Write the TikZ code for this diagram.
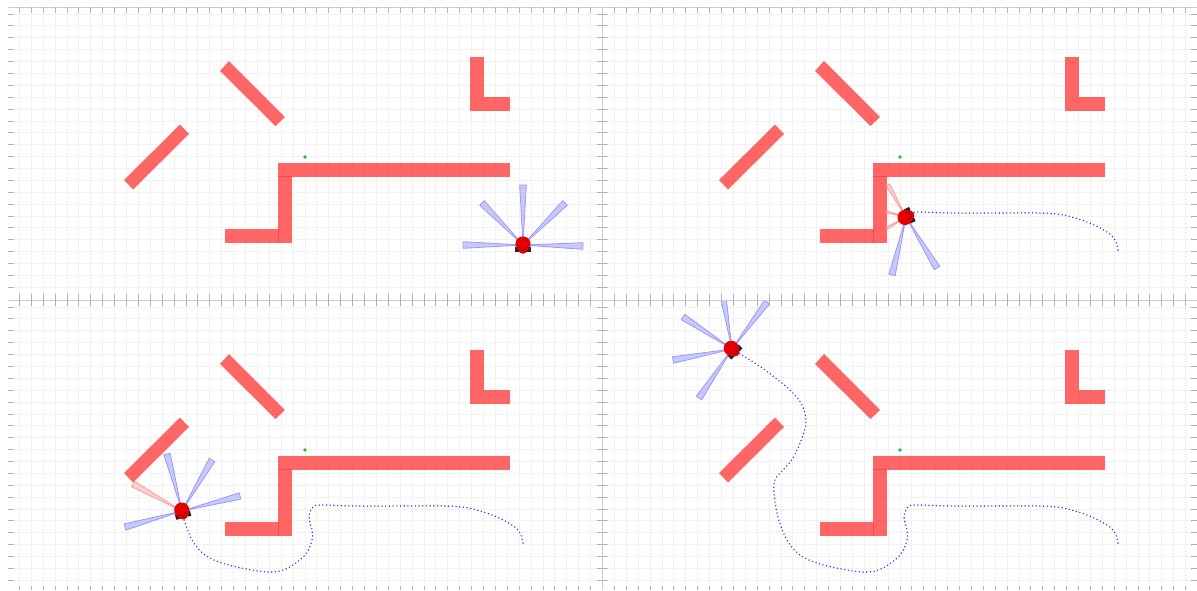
\documentclass[tikz,border=0pt]{standalone}
\usetikzlibrary{calc}
\definecolor{wallred}{RGB}{255,60,60}
\definecolor{beamblue}{RGB}{200,200,250}
\definecolor{beampink}{RGB}{255,208,208}
\tikzset{
  wall/.style={fill=wallred,fill opacity=.78,draw=none},
  bluebeam/.style={fill=beamblue,draw=blue!40!white,line width=.8pt,line join=round},
  pinkbeam/.style={fill=beampink,draw=red!40!white,line width=.8pt,line join=round},
  track/.style={draw=blue!80!white,line width=1.6pt,line cap=round,dash pattern=on 0pt off 3.7pt},
  tick/.style={draw=black!30,line width=.8pt},
  axisline/.style={draw=black!20,line width=.9pt},
  gridline/.style={draw=black!5.5,line width=.8pt},
}
\newcommand{\beam}[3][bluebeam]{\draw[#1] (#2) -- ($(#3)!.055!90:(#2)$) -- ($(#3)!.055!-90:(#2)$) -- cycle;}
\newcommand{\robot}[3]{\begin{scope}[shift={(#1,#2)},rotate=#3]
\fill[black!85] (-7.8,1.5) rectangle (-4,7);\fill[black!85] (4,1.5) rectangle (7.8,7);
\fill[red!90!black] (0,-1) circle (7.6);\fill[red!90!black] (0,4) circle (4.8);
\draw[black,line width=.4pt,dash pattern=on 1.5pt off .8pt] (-3.5,2) arc (180:0:3.5);
\end{scope}}
\newcommand{\trackA}{(523,250) (520,240) (512,232) (492,222) (468,215) (445,213) (405,213) (355,213) (322,212) (313,214)}
\newcommand{\trackB}{(309,224) (312,237) (312,247) (305,262) (288,275) (272,279) (252,277) (225,271) (205,262) (192,247) (183,224)}
\newcommand{\trackC}{(179,200) (180,187) (188,177) (198,165) (207,145) (211,129) (207,112) (195,97) (183,87) (170,77) (155,67) (137,56)}
\begin{document}
\begin{tikzpicture}[x=1pt,y=-1pt]
\useasboundingbox (0,0) rectangle (1197,590);
\fill[white] (0,0) rectangle (1197,590);
% grid
\foreach \k in {0,...,48}{\draw[gridline] ({19.3+11.9*\k},8)--({19.3+11.9*\k},590);\draw[gridline] ({614.3+11.9*\k},8)--({614.3+11.9*\k},590);}
\foreach \k in {0,...,23}{\draw[gridline] (8,{14+11.88*\k})--(1197,{14+11.88*\k});\draw[gridline] (8,{307+11.88*\k})--(1197,{307+11.88*\k});}
% walls, same in every panel
\foreach \dx/\dy in {0/0,595/0,0/293,595/293}{\begin{scope}[shift={(\dx,\dy)}]
\fill[wall] (278.3,163) rectangle (510,177);\fill[wall] (278.3,176) rectangle (291.7,242.5);\fill[wall] (225,229.3) rectangle (279,242.5);
\fill[wall] (470,57.3) rectangle (484.3,111);\fill[wall] (483.5,97.3) rectangle (510.3,111);
\fill[wall] (220,71)--(229,61)--(285,117)--(275.5,126)--cycle;
\fill[wall] (124,180)--(180,124.5)--(189,134)--(133,189.5)--cycle;
\fill[green!65!black!80] (305,157) circle (1.8);
\end{scope}}
% tracks
\draw[track,xshift=595pt,yshift=0pt] plot[smooth,tension=.6] coordinates {\trackA (311,217)};
\draw[track,yshift=-293pt] plot[smooth,tension=.6] coordinates {\trackA \trackB (182,218)};
\draw[track,xshift=595pt,yshift=-293pt] plot[smooth,tension=.6] coordinates {\trackA \trackB \trackC};
% panel one
\coordinate (rob) at (523,245);
\beam{rob}{583,246}\beam{rob}{565,203}\beam{rob}{523,185}\beam{rob}{482,203}\beam{rob}{463,245}
\robot{523}{245}{0}
% panel two
\coordinate (rob) at (906,217);
\beam[pinkbeam]{rob}{888,185}\beam[pinkbeam]{rob}{887,212}\beam[pinkbeam]{rob}{887,228}
\beam{rob}{892,275}\beam{rob}{937,268}
\robot{906}{217}{115}
% panel three
\coordinate (rob) at (182,511);
\beam[pinkbeam]{rob}{133,484}
\beam{rob}{167,454}\beam{rob}{212,460}\beam{rob}{240,496}\beam{rob}{125,527}
\robot{182}{511}{15}
% panel four
\coordinate (rob) at (732,349);
\begin{scope}
\clip (8,300.5) rectangle (1197,590);
\beam{rob}{722,290}\beam{rob}{767,302}\beam{rob}{683,317}\beam{rob}{673,360}\beam{rob}{699,398}
\end{scope}
\robot{732}{349}{45}
% axes and ticks
\draw[axisline] (8,7.5)--(1197,7.5);\draw[axisline] (8,300.3)--(1197,300.3);\draw[axisline] (602.7,8)--(602.7,590);
\foreach \k in {0,...,48}{
\draw[tick] ({19.3+11.9*\k},7)--({19.3+11.9*\k},13);\draw[tick] ({614.3+11.9*\k},7)--({614.3+11.9*\k},13);
\draw[tick] ({19.3+11.9*\k},294)--({19.3+11.9*\k},306);\draw[tick] ({614.3+11.9*\k},294)--({614.3+11.9*\k},306);
\draw[tick] ({19.3+11.9*\k},586)--({19.3+11.9*\k},590);\draw[tick] ({614.3+11.9*\k},586)--({614.3+11.9*\k},590);}
\foreach \k in {0,...,23}{
\draw[tick] (8,{14+11.88*\k})--(14,{14+11.88*\k});\draw[tick] (597,{14+11.88*\k})--(608,{14+11.88*\k});\draw[tick] (1191,{14+11.88*\k})--(1197,{14+11.88*\k});
\draw[tick] (8,{307+11.88*\k})--(14,{307+11.88*\k});\draw[tick] (597,{307+11.88*\k})--(608,{307+11.88*\k});\draw[tick] (1191,{307+11.88*\k})--(1197,{307+11.88*\k});}
\end{tikzpicture}
\end{document}
